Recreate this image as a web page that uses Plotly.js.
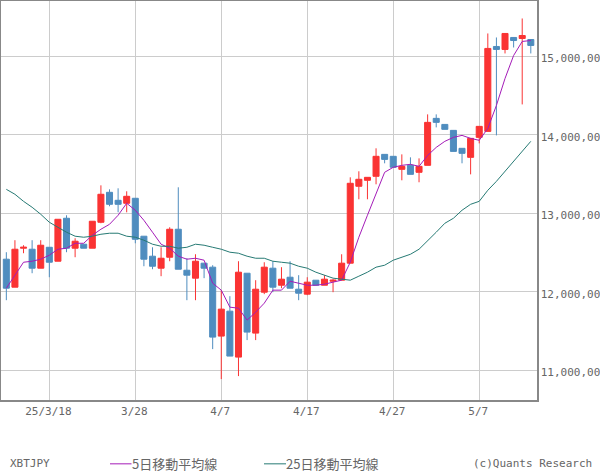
<!DOCTYPE html>
<html><head><meta charset="utf-8">
<script src="https://cdn.plot.ly/plotly-3.0.0.min.js"></script>
<style>html,body{margin:0;padding:0;background:#fff}#c{width:600px;height:475px}</style>
</head><body><div id="c"></div>
<script>
const dates=["3/13","3/14","3/15","3/16","3/17","3/18","3/19","3/20","3/21","3/22","3/23","3/24","3/25","3/26","3/27","3/28","3/29","3/30","3/31","4/1","4/2","4/3","4/4","4/5","4/6","4/7","4/8","4/9","4/10","4/11","4/12","4/13","4/14","4/15","4/16","4/17","4/18","4/19","4/20","4/21","4/22","4/23","4/24","4/25","4/26","4/27","4/28","4/29","4/30","5/1","5/2","5/3","5/4","5/5","5/6","5/7","5/8","5/9","5/10","5/11","5/12","5/13"];
const tickDates=["3/18","3/28","4/7","4/17","4/27","5/7"];
const tickLabels=["25/3/18","3/28","4/7","4/17","4/27","5/7"];
const priceTicks=[11000000,12000000,13000000,14000000,15000000];
// values in thousands of yen
const openK=[12414,12057,12554,12541,12299,12566,12388,12936,12554,12605,12554,12885,13267,13165,13127,13191,12707,12452,12299,12439,12796,12273,12172,12363,12312,11433,11751,11165,12235,11471,11993,12299,12082,12184,12031,11968,12146,12082,12133,12146,12363,13344,13420,13471,13751,13726,13560,13611,13522,13611,14210,14133,14057,13828,13713,13968,14044,15127,15089,15242,15229,15216];
const highK=[12503,12656,12592,12656,12656,12566,12923,12974,12681,12605,12898,13356,13305,13318,13280,13191,12707,12566,12566,12821,13331,12426,12477,12363,12337,12019,11942,12388,12235,12146,12375,12388,12312,12388,12210,12184,12146,12210,12159,12477,13458,13535,13458,13828,13751,13726,13751,13713,13700,14261,14261,14133,14057,13828,13955,14108,15293,15242,15293,15242,15484,15216];
const lowK=[11891,12057,12490,12235,12299,12184,12388,12503,12439,12554,12554,12872,13089,13012,13012,12617,12324,12286,12197,12388,12286,11891,11891,12172,11267,10885,11178,10923,11382,11382,11968,11993,12044,12044,11891,11955,12082,12082,11993,12146,12363,13178,13178,13369,13637,13586,13420,13496,13395,13611,14095,14070,13789,13637,13496,13891,14044,13993,15038,15114,14388,15038];
const closeK=[12044,12541,12566,12299,12592,12375,12923,12554,12643,12554,12898,13242,13114,13114,13216,12668,12414,12324,12426,12796,12286,12210,12388,12299,11420,11777,11178,12248,11484,12031,12312,12057,12159,12044,11980,12121,12082,12159,12146,12363,13382,13433,13458,13726,13687,13586,13598,13496,13598,14159,14159,14070,13789,13764,13955,14108,15102,15089,15293,15203,15267,15140];
const ma5K=[12044,12210,12375,12388,12414,12465,12541,12554,12617,12617,12719,12796,12859,12974,13127,13038,12910,12758,12605,12554,12452,12414,12426,12401,12108,12019,11802,11789,11637,11738,11853,12019,12019,12133,12108,12082,12082,12095,12121,12146,12375,12694,12974,13254,13522,13586,13611,13624,13598,13738,13840,13917,13968,13993,13955,13930,14082,14375,14719,15012,15191,15203];
const ma25K=[13305,13242,13152,13076,12987,12885,12821,12758,12707,12694,12707,12732,12745,12745,12707,12694,12656,12605,12579,12579,12554,12566,12605,12592,12566,12541,12503,12490,12452,12426,12426,12388,12375,12363,12324,12299,12248,12210,12172,12159,12146,12197,12248,12312,12337,12401,12439,12477,12541,12656,12758,12872,12936,13038,13114,13152,13293,13407,13535,13649,13789,13917];
const ySeries=a=>a.map(v=>v*1000);
const RED="#fa3333",BLUE="#4f8dbf",PURPLE="#a41cb8",TEAL="#267a74",GRID="#cccccc",FRAME="#888888",TEXT="#666666";
const mono="'DejaVu Sans Mono', monospace", cjk="'Noto Sans CJK JP', sans-serif";
const traces=[
 {type:"candlestick",x:dates,open:ySeries(openK),high:ySeries(highK),low:ySeries(lowK),close:ySeries(closeK),
  increasing:{line:{color:RED,width:1},fillcolor:RED},decreasing:{line:{color:BLUE,width:1},fillcolor:BLUE},
  whiskerwidth:0,showlegend:false,name:"XBTJPY"},
 {type:"scatter",mode:"lines",x:dates,y:ySeries(ma5K),line:{color:PURPLE,width:1},showlegend:false,name:"5日移動平均線"},
 {type:"scatter",mode:"lines",x:dates,y:ySeries(ma25K),line:{color:TEAL,width:1},showlegend:false,name:"25日移動平均線"}
];
const note=(x,text,family)=>({xref:"paper",yref:"paper",x:x,y:-0.16,xanchor:"left",yanchor:"middle",showarrow:false,text:text,font:{family:family,size:family===cjk?13:11,color:TEXT},borderpad:0,align:"left"});
const W=536,L=1;
const px=p=>(p-L)/W;
const key=(a,b,c)=>({type:"line",xref:"paper",yref:"paper",x0:px(a),x1:px(b),y0:-0.16,y1:-0.16,line:{color:c,width:1}});
const layout={
 width:600,height:475,paper_bgcolor:"#fff",plot_bgcolor:"#fff",
 margin:{l:L,r:63,t:1,b:75,pad:0},showlegend:false,
 boxgap:0.3,boxgroupgap:0,
 xaxis:{type:"category",categoryorder:"array",categoryarray:dates,range:[-0.62,61.72],rangeslider:{visible:false},
  tickmode:"array",tickvals:tickDates,ticktext:tickLabels,tickfont:{family:mono,size:11,color:TEXT},
  ticks:"",ticklabelshift:-1,showgrid:true,gridcolor:GRID,gridwidth:1,
  showline:true,linecolor:FRAME,linewidth:1.5,mirror:true,zeroline:false,tickangle:0},
 yaxis:{side:"right",range:[10618000,15707000],tickmode:"array",tickvals:priceTicks,tickformat:",d",
  tickfont:{family:mono,size:11,color:TEXT},ticks:"",ticklabelshift:2,
  showgrid:true,gridcolor:GRID,gridwidth:1,showline:true,linecolor:FRAME,linewidth:1.5,mirror:true,zeroline:false},
 shapes:[key(110,131.5,PURPLE),key(264,286,TEAL)],
 annotations:[note(px(9),"XBTJPY",mono),note(px(131),"5日移動平均線",cjk),note(px(285),"25日移動平均線",cjk),note(px(472),"(c)Quants Research",mono)]
};
Plotly.newPlot("c",traces,layout,{displayModeBar:false,staticPlot:true});
</script></body></html>
